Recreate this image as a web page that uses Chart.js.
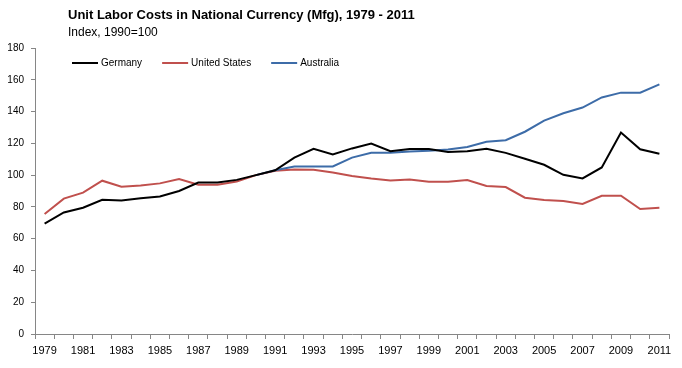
<!DOCTYPE html>
<html>
<head>
<meta charset="utf-8">
<script src="https://cdn.jsdelivr.net/npm/chart.js@4.4.1/dist/chart.umd.min.js"></script>
<style>
  body { margin: 0; background: #fff; }
  #wrap { position: relative; width: 682px; height: 368px; }
  #wrap canvas { position: absolute; left: 0; top: 0; }
  .title { position: absolute; left: 68px; top: 7px; font: bold 13px "Liberation Sans", Arial, sans-serif; color: #000; white-space: nowrap; z-index: 2; }
  .subtitle { position: absolute; left: 68px; top: 25px; font: 12px "Liberation Sans", Arial, sans-serif; color: #000; white-space: nowrap; z-index: 2; }
</style>
</head>
<body>
<div id="wrap">
  <div class="title">Unit Labor Costs in National Currency (Mfg), 1979 - 2011</div>
  <div class="subtitle">Index, 1990=100</div>
  <canvas id="chart1" width="682" height="368"></canvas>
</div>
<script>
const years = [
  "1979", "1980", "1981", "1982", "1983", "1984", "1985", "1986", "1987", "1988", "1989",
  "1990", "1991", "1992", "1993", "1994", "1995", "1996", "1997", "1998", "1999", "2000",
  "2001", "2002", "2003", "2004", "2005", "2006", "2007", "2008", "2009", "2010", "2011",
];

const seriesNames = ["Germany", "United States", "Australia"];

const germany = [
  69.5, 76.5, 79.5, 84.5, 84, 85.5, 86.5, 90, 95.3, 95.3, 97,
  100, 103, 111, 116.5, 113, 116.8, 119.8, 115, 116.5, 116.5, 114.5,
  115, 116.6, 114, 110.3, 106.5, 100.2, 97.9, 104.8, 126.8, 116.3, 113.4,
];

const unitedStates = [
  75.5, 85.2, 89, 96.5, 92.7, 93.4, 94.8, 97.5, 94, 94, 96,
  100, 102.8, 103.6, 103.4, 101.6, 99.4, 97.8, 96.6, 97.3, 95.9, 95.9,
  96.9, 93.1, 92.5, 85.8, 84.3, 83.7, 81.8, 87, 87, 78.7, 79.5,
];

const australia = [
  null, null, null, null, null, null, null, null, null, null, null,
  100, 103, 105.4, 105.4, 105.4, 111, 114.1, 114.1, 114.8, 115.4, 116.1,
  117.7, 121, 122, 127.3, 134.3, 138.9, 142.5, 148.9, 151.9, 151.9, 157.1,
];

const lineColors = ["#000000", "#C0504D", "#3D6CA8"];
const axisColor = "#868686";
const fontFamily = '"Liberation Sans", Arial, sans-serif';

// 凡例はプロット領域の中に横並びで描く
const innerLegend = {
  id: "innerLegend",
  afterDraw(chart) {
    const c = chart.ctx;
    const area = chart.chartArea;
    let x = area.left + 37;
    const y = area.top + 15;
    c.save();
    c.font = "10px " + fontFamily;
    c.textBaseline = "middle";
    c.textAlign = "left";
    chart.data.datasets.forEach(function (ds) {
      c.strokeStyle = ds.borderColor;
      c.lineWidth = 2;
      c.beginPath();
      c.moveTo(x, y);
      c.lineTo(x + 26, y);
      c.stroke();
      c.fillStyle = "#000";
      c.fillText(ds.label, x + 29, y);
      x += 29 + c.measureText(ds.label).width + 20;
    });
    c.restore();
  },
};

function makeDataset(label, data, color, order) {
  return {
    label: label,
    data: data,
    borderColor: color,
    backgroundColor: color,
    borderWidth: 2,
    pointRadius: 0,
    tension: 0,
    spanGaps: false,
    order: order,
  };
}

window.onload = function () {
  const ctx = document.getElementById("chart1");

  new Chart(ctx, {
    type: "line",
    data: {
      labels: years,
      datasets: [
        makeDataset(seriesNames[0], germany, lineColors[0], 1),
        makeDataset(seriesNames[1], unitedStates, lineColors[1], 3),
        makeDataset(seriesNames[2], australia, lineColors[2], 2),
      ],
    },
    options: {
      responsive: false,
      animation: false,
      layout: { padding: { left: 0, top: 48, right: 13, bottom: 0 } },
      plugins: {
        tooltip: { enabled: false },
        legend: { display: false },
      },
      scales: {
        x: {
          offset: true,
          grid: { offset: true, drawOnChartArea: false, tickLength: 5, color: axisColor },
          border: { color: axisColor },
          ticks: {
            autoSkip: false,
            maxRotation: 0,
            padding: 5,
            color: "#000",
            font: { size: 11, family: fontFamily },
            callback: function (value, index) {
              return index % 2 === 0 ? years[index] : "";
            },
          },
          afterFit: function (scale) { scale.height = 34; },
        },
        y: {
          min: 0,
          max: 180,
          grid: { drawOnChartArea: false, tickLength: 4, color: axisColor },
          border: { color: axisColor },
          ticks: {
            stepSize: 20,
            padding: 7,
            color: "#000",
            font: { size: 10, family: fontFamily },
          },
          afterFit: function (scale) { scale.width = 35; },
        },
      },
    },
    plugins: [innerLegend],
  });
};
</script>
</body>
</html>
